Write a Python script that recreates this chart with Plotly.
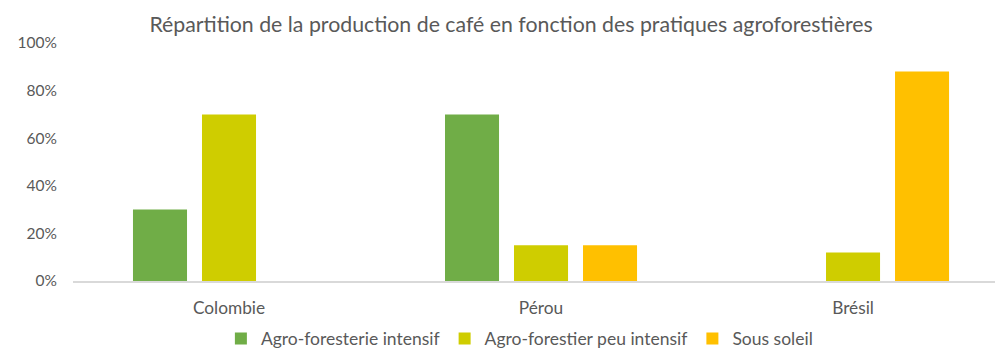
import plotly.graph_objects as go

# Coffee production share by agroforestry practice, per country
countries = ["Colombie", "Pérou", "Brésil"]
series_names = ["Agro-foresterie intensif", "Agro-forestier peu intensif", "Sous soleil"]
intensive = [0.30, 0.70, 0.0]
low_intensity = [0.70, 0.15, 0.12]
full_sun = [0.0, 0.15, 0.88]
colors = ["#70AD47", "#CFCD00", "#FFC000"]

y_ticks = [0, 0.2, 0.4, 0.6, 0.8, 1.0]

fig = go.Figure()
for name, values, color in zip(series_names, [intensive, low_intensity, full_sun], colors):
    fig.add_trace(go.Bar(
        x=countries, y=values, name=name,
        marker=dict(color=color, line=dict(width=0)),
        hoverinfo="x+y+name",
    ))

text_color = "#595959"
fig.update_layout(
    width=995, height=349,
    margin=dict(l=73, r=0, t=43, b=68),
    paper_bgcolor="white", plot_bgcolor="white",
    font=dict(family="Lato", size=17, color=text_color),
    title=dict(
        text="Répartition de la production de café en fonction des pratiques agroforestières",
        x=0.5136, xref="container", xanchor="center",
        y=0.93, yref="container", yanchor="middle",
        font=dict(family="Lato", size=21.3, color=text_color),
    ),
    barmode="group",
    bargap=0.3365,
    bargroupgap=0.217,
    showlegend=True,
    legend=dict(
        orientation="h", x=0.522, xanchor="center", xref="container",
        y=0.03, yanchor="middle", yref="container",
        font=dict(size=17.5, color=text_color),
        itemwidth=30, traceorder="normal",
    ),
    xaxis=dict(
        type="category", range=[-0.5, 2.455],
        showline=True, linecolor="#D9D9D9", linewidth=2,
        showgrid=False, ticks="", ticklabelstandoff=10,
        tickfont=dict(size=17.3, color=text_color),
    ),
    yaxis=dict(
        range=[0, 1.0], tickvals=y_ticks, tickformat=".0%",
        showgrid=False, zeroline=False, showline=False,
        ticks="", ticklabelstandoff=15,
        tickfont=dict(size=15.5, color=text_color),
    ),
)

fig.write_html("out.html")
